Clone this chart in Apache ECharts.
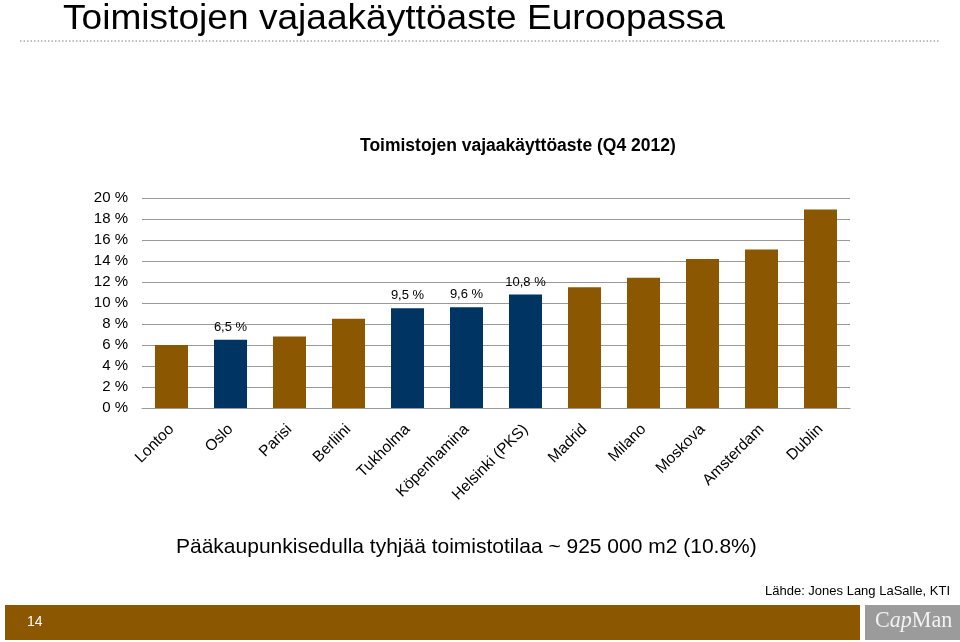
<!DOCTYPE html>
<html><head><meta charset="utf-8">
<script src="https://cdn.jsdelivr.net/npm/echarts@6/dist/echarts.min.js"></script>
<style>html,body{margin:0;padding:0;background:#fff}#c{width:960px;height:642px}</style>
</head><body><div id="c"></div>
<script>
const categories = ['Lontoo','Oslo','Parisi','Berliini','Tukholma','Köpenhamina','Helsinki (PKS)','Madrid','Milano','Moskova','Amsterdam','Dublin'];
const values = [6.0, 6.5, 6.8, 8.5, 9.5, 9.6, 10.8, 11.5, 12.4, 14.2, 15.1, 18.9];
const nordic = [false, true, false, false, true, true, true, false, false, false, false, false];

const BROWN = '#8B5700', NAVY = '#003463';
const chart = echarts.init(document.getElementById('c'));
chart.setOption({
  animation: false,
  backgroundColor: '#fff',
  textStyle: { fontFamily: 'Liberation Sans, Arial, sans-serif' },
  title: [
    { text: 'Toimistojen vajaakäyttöaste (Q4 2012)', top: 137, left: 360, padding: 0,
      textStyle: { fontSize: 17.5, fontWeight: 'bold', color: '#000', fontFamily: 'Liberation Sans' } }
  ],
  grid: { left: 142, right: 110, top: 198, bottom: 234 },
  xAxis: {
    type: 'category', data: categories,
    axisLine: { show: true, lineStyle: { color: '#999', width: 1 } },
    axisTick: { show: false },
    axisLabel: { rotate: 45, interval: 0, fontSize: 15.5, color: '#000', margin: 19, fontFamily: 'Liberation Sans' }
  },
  yAxis: {
    type: 'value', min: 0, max: 20, interval: 2,
    axisLine: { show: false }, axisTick: { show: false },
    splitLine: { lineStyle: { color: '#999', width: 1 } },
    axisLabel: { fontSize: 15, color: '#000', margin: 14, formatter: v => v + ' %', fontFamily: 'Liberation Sans' }
  },
  series: [{
    type: 'bar', barWidth: 33,
    data: values.map((v, i) => ({
      value: v,
      itemStyle: { color: nordic[i] ? NAVY : BROWN },
      label: { show: nordic[i], position: 'top', distance: 6, fontSize: 13, color: '#000',
        formatter: p => String(p.value).replace('.', ',') + ' %' }
    }))
  }],
  graphic: [
    { type: 'text', x: 63, y: 2, scaleX: 1.06,
      style: { text: 'Toimistojen vajaakäyttöaste Euroopassa', fontSize: 35, fill: '#000', fontFamily: 'Liberation Sans' } },
    { type: 'line', shape: { x1: 20, y1: 41, x2: 940, y2: 41 },
      style: { stroke: '#aaa', lineWidth: 1.5, lineDash: [1.5, 2] } },
    { type: 'text', left: 176, top: 537,
      style: { text: 'Pääkaupunkisedulla tyhjää toimistotilaa ~ 925 000 m2 (10.8%)', fontSize: 21, fill: '#000', fontFamily: 'Liberation Sans' } },
    { type: 'text', right: 10, top: 585,
      style: { text: 'Lähde: Jones Lang LaSalle, KTI', fontSize: 13, fill: '#000', fontFamily: 'Liberation Sans' } },
    { type: 'rect', shape: { x: 5, y: 605, width: 855, height: 35 }, style: { fill: BROWN } },
    { type: 'text', left: 27, top: 615, style: { text: '14', fontSize: 14, fill: '#fff', fontFamily: 'Liberation Sans' } },
    { type: 'rect', shape: { x: 865, y: 605, width: 95, height: 35 }, style: { fill: '#9b9b9b' } },
    { type: 'text', x: 875, y: 609, scaleX: 0.92,
      style: { text: '{n|C}{i|ap}{n|Man}', fill: '#f2f2f2',
        rich: { n: { fontSize: 24, fontFamily: 'Liberation Serif', fill: '#f2f2f2' },
                i: { fontSize: 24, fontFamily: 'Liberation Serif', fontStyle: 'italic', fill: '#f2f2f2' } } } }
  ]
});
</script></body></html>
